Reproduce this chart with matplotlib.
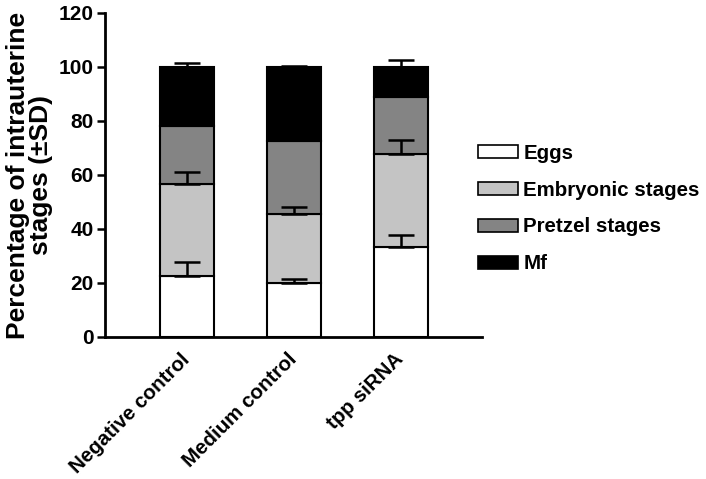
import matplotlib.pyplot as plt
from matplotlib.patches import Patch
from matplotlib.transforms import ScaledTranslation
import numpy as np

# Data
groups = ["Negative control", "Medium control", "tpp siRNA"]
stages = ["Eggs", "Embryonic stages", "Pretzel stages", "Mf"]
eggs      = np.array([22.5, 20.0, 33.5])
embryonic = np.array([34.0, 25.7, 34.2])
pretzel   = np.array([21.8, 27.0, 21.3])
mf        = np.array([21.7, 27.3, 11.0])
eggs_sd      = np.array([5.2, 1.5, 4.2])
embryonic_sd = np.array([4.5, 2.3, 5.3])
pretzel_sd   = np.array([0.0, 0.0, 0.0])
mf_sd        = np.array([1.5, 0.4, 2.5])

colors = ["white", "#c4c4c4", "#848484", "black"]

plt.rcParams["font.family"] = ["Liberation Sans", "DejaVu Sans"]
plt.rcParams["font.weight"] = "bold"

fig = plt.figure(figsize=(7.06, 4.79), dpi=100)
ax = fig.add_axes([0.1487, 0.2965, 0.534, 0.6764])

x = np.arange(len(groups))
series = [eggs, embryonic, pretzel, mf]
sds = [eggs_sd, embryonic_sd, pretzel_sd, mf_sd]
bottom = np.zeros(len(groups))
for vals, sd, col in zip(series, sds, colors):
    ax.bar(x, vals, width=0.5, bottom=bottom, color=col,
           edgecolor="black", linewidth=1.5, zorder=2)
    top = bottom + vals
    mask = sd > 0
    ax.errorbar(x[mask], top[mask], yerr=[np.zeros(mask.sum()), sd[mask]],
                fmt="none", ecolor="black", elinewidth=1.8, capsize=9.5,
                capthick=1.8, zorder=3)
    bottom = top

ax.set_xlim(-0.766, 2.757)
ax.set_ylim(0, 120)
ax.set_yticks(np.arange(0, 121, 20))
ax.set_xticks(x)
ax.set_xticklabels(groups, rotation=45, ha="right", rotation_mode="anchor",
                   fontsize=14.8, fontweight="bold")
ax.tick_params(axis="x", length=0, pad=10)
# nudge rotated labels a little to the left
shift = ScaledTranslation(-7 / 100, 1 / 100, fig.dpi_scale_trans)
for t in ax.get_xticklabels():
    t.set_transform(t.get_transform() + shift)
ax.tick_params(axis="y", labelsize=15, width=1.8, length=6, pad=2)
for t in ax.get_yticklabels():
    t.set_fontweight("bold")

ax.spines["top"].set_visible(False)
ax.spines["right"].set_visible(False)
ax.spines["left"].set_linewidth(2)
ax.spines["bottom"].set_linewidth(2)

ax.set_ylabel("Percentage of intrauterine\nstages (\u00b1SD)",
              fontsize=19, fontweight="bold", linespacing=0.95, labelpad=4)

handles = [Patch(facecolor=c, edgecolor="black", linewidth=1.2) for c in colors]
fig.legend(handles, stages, loc="upper left", bbox_to_anchor=(0.677, 0.70),
           frameon=False, handlelength=1.95, handleheight=0.6,
           labelspacing=0.87, handletextpad=0.25, borderpad=0,
           borderaxespad=0, prop={"weight": "bold", "size": 14.8})

fig.savefig("out.png", dpi=100)
